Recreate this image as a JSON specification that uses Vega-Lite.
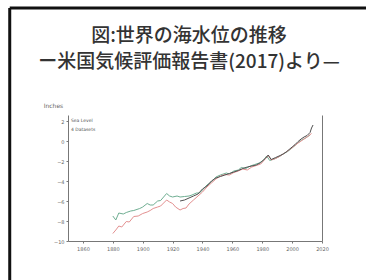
{
  "$schema": "https://vega.github.io/schema/vega-lite/v6.json",
  "autosize": {"type": "none"},
  "width": 254,
  "height": 126,
  "padding": {"left": 68, "top": 115, "right": 44, "bottom": 39},
  "background": "white",
  "title": {
    "text": ["図:世界の海水位の推移", "ー米国気候評価報告書(2017)より—"],
    "font": "Noto Sans CJK JP",
    "fontSize": 19,
    "fontWeight": 500,
    "color": "#333333",
    "lineHeight": 26,
    "anchor": "middle",
    "dx": -6,
    "offset": -65
  },
  "config": {
    "view": {"stroke": null},
    "axis": {
      "labelFont": "DejaVu Sans",
      "labelFontSize": 5,
      "labelColor": "#666666",
      "domainColor": "#777777",
      "tickColor": "#777777",
      "tickSize": 2,
      "grid": false,
      "labelOverlap": false,
      "labelFlush": false
    }
  },
  "datasets": {
    "series": [
      {"s": "green", "year": 1880, "v": -7.5}, {"s": "green", "year": 1882, "v": -7.9}, {"s": "green", "year": 1884, "v": -7.2}, {"s": "green", "year": 1887, "v": -7.3}, {"s": "green", "year": 1889, "v": -7.15}, {"s": "green", "year": 1892, "v": -7.0}, {"s": "green", "year": 1894, "v": -6.95}, {"s": "green", "year": 1898, "v": -6.75}, {"s": "green", "year": 1900, "v": -6.6}, {"s": "green", "year": 1903, "v": -6.25}, {"s": "green", "year": 1905, "v": -6.4}, {"s": "green", "year": 1907, "v": -6.4}, {"s": "green", "year": 1910, "v": -6.0}, {"s": "green", "year": 1912, "v": -5.95}, {"s": "green", "year": 1914, "v": -5.6}, {"s": "green", "year": 1916, "v": -5.25}, {"s": "green", "year": 1918, "v": -5.5}, {"s": "green", "year": 1920, "v": -5.6}, {"s": "green", "year": 1923, "v": -5.5}, {"s": "green", "year": 1925, "v": -5.6}, {"s": "green", "year": 1928, "v": -5.55}, {"s": "green", "year": 1931, "v": -5.5}, {"s": "green", "year": 1933, "v": -5.4}, {"s": "green", "year": 1936, "v": -5.2}, {"s": "green", "year": 1938, "v": -5.2}, {"s": "green", "year": 1940, "v": -4.9}, {"s": "green", "year": 1943, "v": -4.4}, {"s": "green", "year": 1946, "v": -4.1}, {"s": "green", "year": 1949, "v": -3.6}, {"s": "green", "year": 1952, "v": -3.4}, {"s": "green", "year": 1956, "v": -3.2}, {"s": "green", "year": 1958, "v": -3.3}, {"s": "green", "year": 1961, "v": -3.0}, {"s": "green", "year": 1964, "v": -2.9}, {"s": "green", "year": 1966, "v": -2.65}, {"s": "green", "year": 1969, "v": -2.75}, {"s": "green", "year": 1972, "v": -2.5}, {"s": "green", "year": 1975, "v": -2.35}, {"s": "green", "year": 1978, "v": -2.2}, {"s": "green", "year": 1981, "v": -1.9}, {"s": "green", "year": 1983, "v": -1.5}, {"s": "green", "year": 1985, "v": -1.95}, {"s": "green", "year": 1988, "v": -1.8}, {"s": "green", "year": 1991, "v": -1.6}, {"s": "green", "year": 1994, "v": -1.3}, {"s": "green", "year": 1997, "v": -1.05}, {"s": "green", "year": 2000, "v": -0.7}, {"s": "green", "year": 2003, "v": -0.3}, {"s": "green", "year": 2006, "v": 0.05}, {"s": "green", "year": 2009, "v": 0.3}, {"s": "green", "year": 2012, "v": 0.6},
      {"s": "red", "year": 1880, "v": -9.25}, {"s": "red", "year": 1882, "v": -8.9}, {"s": "red", "year": 1884, "v": -8.5}, {"s": "red", "year": 1886, "v": -8.6}, {"s": "red", "year": 1889, "v": -8.05}, {"s": "red", "year": 1891, "v": -8.1}, {"s": "red", "year": 1894, "v": -7.55}, {"s": "red", "year": 1897, "v": -7.5}, {"s": "red", "year": 1900, "v": -7.25}, {"s": "red", "year": 1903, "v": -7.1}, {"s": "red", "year": 1905, "v": -6.95}, {"s": "red", "year": 1907, "v": -6.75}, {"s": "red", "year": 1910, "v": -6.6}, {"s": "red", "year": 1912, "v": -6.5}, {"s": "red", "year": 1914, "v": -6.2}, {"s": "red", "year": 1916, "v": -5.9}, {"s": "red", "year": 1918, "v": -6.1}, {"s": "red", "year": 1920, "v": -6.25}, {"s": "red", "year": 1922, "v": -6.6}, {"s": "red", "year": 1925, "v": -6.9}, {"s": "red", "year": 1927, "v": -6.75}, {"s": "red", "year": 1929, "v": -6.7}, {"s": "red", "year": 1931, "v": -6.3}, {"s": "red", "year": 1934, "v": -5.9}, {"s": "red", "year": 1937, "v": -5.5}, {"s": "red", "year": 1940, "v": -5.1}, {"s": "red", "year": 1943, "v": -4.6}, {"s": "red", "year": 1946, "v": -4.2}, {"s": "red", "year": 1949, "v": -3.8}, {"s": "red", "year": 1952, "v": -3.5}, {"s": "red", "year": 1955, "v": -3.35}, {"s": "red", "year": 1958, "v": -3.4}, {"s": "red", "year": 1961, "v": -3.15}, {"s": "red", "year": 1964, "v": -3.0}, {"s": "red", "year": 1967, "v": -2.8}, {"s": "red", "year": 1970, "v": -2.9}, {"s": "red", "year": 1973, "v": -2.6}, {"s": "red", "year": 1976, "v": -2.45}, {"s": "red", "year": 1979, "v": -2.3}, {"s": "red", "year": 1982, "v": -1.8}, {"s": "red", "year": 1984, "v": -1.45}, {"s": "red", "year": 1986, "v": -1.9}, {"s": "red", "year": 1989, "v": -1.75}, {"s": "red", "year": 1992, "v": -1.5}, {"s": "red", "year": 1995, "v": -1.2}, {"s": "red", "year": 1998, "v": -0.9}, {"s": "red", "year": 2001, "v": -0.55}, {"s": "red", "year": 2004, "v": -0.2}, {"s": "red", "year": 2007, "v": 0.1}, {"s": "red", "year": 2010, "v": 0.4}, {"s": "red", "year": 2013, "v": 0.75},
      {"s": "black", "year": 1925, "v": -6.0}, {"s": "black", "year": 1928, "v": -5.9}, {"s": "black", "year": 1931, "v": -5.7}, {"s": "black", "year": 1934, "v": -5.5}, {"s": "black", "year": 1937, "v": -5.3}, {"s": "black", "year": 1940, "v": -4.8}, {"s": "black", "year": 1943, "v": -4.5}, {"s": "black", "year": 1946, "v": -4.0}, {"s": "black", "year": 1949, "v": -3.7}, {"s": "black", "year": 1952, "v": -3.55}, {"s": "black", "year": 1955, "v": -3.4}, {"s": "black", "year": 1958, "v": -3.25}, {"s": "black", "year": 1961, "v": -3.1}, {"s": "black", "year": 1964, "v": -2.95}, {"s": "black", "year": 1967, "v": -2.75}, {"s": "black", "year": 1970, "v": -2.6}, {"s": "black", "year": 1973, "v": -2.5}, {"s": "black", "year": 1976, "v": -2.4}, {"s": "black", "year": 1979, "v": -2.15}, {"s": "black", "year": 1982, "v": -1.75}, {"s": "black", "year": 1984, "v": -1.4}, {"s": "black", "year": 1986, "v": -1.85}, {"s": "black", "year": 1989, "v": -1.65}, {"s": "black", "year": 1992, "v": -1.45}, {"s": "black", "year": 1994, "v": -1.3}, {"s": "black", "year": 1996, "v": -1.1}, {"s": "black", "year": 1998, "v": -0.85}, {"s": "black", "year": 2000, "v": -0.6}, {"s": "black", "year": 2002, "v": -0.35}, {"s": "black", "year": 2004, "v": -0.05}, {"s": "black", "year": 2006, "v": 0.2}, {"s": "black", "year": 2008, "v": 0.4}, {"s": "black", "year": 2010, "v": 0.55}, {"s": "black", "year": 2012, "v": 0.85}, {"s": "black", "year": 2013, "v": 1.3}, {"s": "black", "year": 2014, "v": 1.6}
    ],
    "legend": [
      {"year": 1852, "v": 2.0, "label": "Sea Level"},
      {"year": 1852, "v": 1.1, "label": "4 Datasets"}
    ],
    "frame": [
      {"year": 1811, "v": 13.3, "year2": 2060, "v2": -14}
    ]
  },
  "layer": [
    {
      "data": {"name": "series"},
      "mark": {"type": "line", "strokeWidth": 1, "clip": true},
      "encoding": {
        "x": {
          "field": "year", "type": "quantitative",
          "scale": {"domain": [1850, 2020], "nice": false, "zero": false},
          "axis": {"title": null, "values": [1860, 1880, 1900, 1920, 1940, 1960, 1980, 2000, 2020], "tickCount": 20, "format": "d", "labelPadding": 3, "labelOverlap": false}
        },
        "y": {
          "field": "v", "type": "quantitative",
          "scale": {"domain": [-10, 2.6], "nice": false, "zero": false},
          "axis": {
            "title": "Inches", "titleFont": "DejaVu Sans", "titleFontSize": 6, "titleFontWeight": "normal", "titleColor": "#666666",
            "titleAngle": 0, "titleX": -15, "titleY": -10, "titleAlign": "center", "titleBaseline": "middle",
            "values": [2, 0, -2, -4, -6, -8, -10], "tickCount": 20, "format": "d", "labelPadding": 2, "labelOverlap": false
          }
        },
        "color": {
          "field": "s", "type": "nominal",
          "scale": {"domain": ["green", "red", "black"], "range": ["#6fae92", "#e39090", "#505050"]},
          "legend": null
        },
        "detail": {"field": "s"}
      }
    },
    {
      "data": {"name": "legend"},
      "mark": {"type": "text", "align": "left", "baseline": "middle", "font": "DejaVu Sans", "fontSize": 4.5, "color": "#555555"},
      "encoding": {
        "x": {"field": "year", "type": "quantitative"},
        "y": {"field": "v", "type": "quantitative", "axis": {"orient": "right", "labels": false, "ticks": false, "title": null, "domainColor": "#777777"}},
        "text": {"field": "label"}
      }
    },
    {
      "data": {"name": "frame"},
      "mark": {"type": "rule", "clip": false, "color": "#111111", "strokeWidth": 3},
      "encoding": {
        "x": {"field": "year", "type": "quantitative"},
        "y": {"field": "v", "type": "quantitative", "axis": null},
        "x2": {"field": "year2"}
      }
    },
    {
      "data": {"name": "frame"},
      "mark": {"type": "rule", "clip": false, "color": "#111111", "strokeWidth": 3},
      "encoding": {
        "x": {"field": "year", "type": "quantitative"},
        "y": {"field": "v", "type": "quantitative", "axis": null},
        "y2": {"field": "v2"}
      }
    }
  ],
  "resolve": {"axis": {"y": "independent"}}
}
